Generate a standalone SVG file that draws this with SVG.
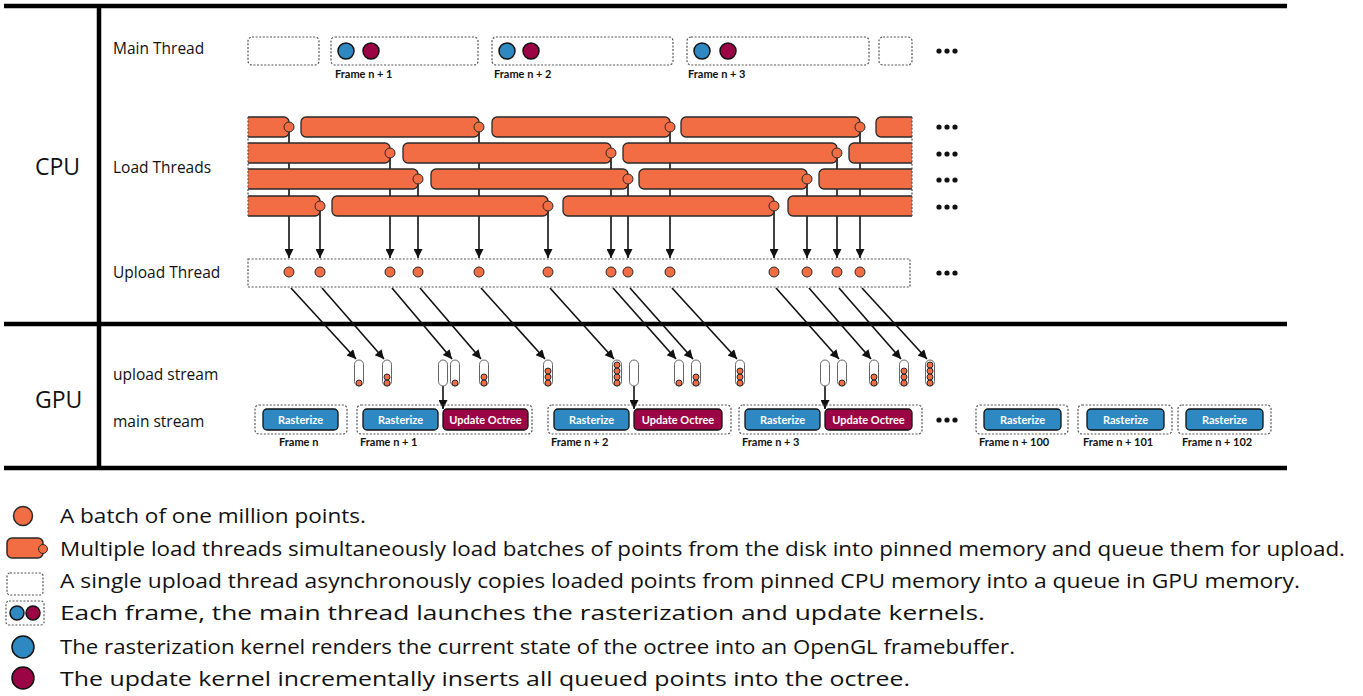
<svg xmlns="http://www.w3.org/2000/svg" width="1363" height="696" viewBox="0 0 1363 696">
<style>
.lbl{font-family:"Open Sans","Liberation Sans",sans-serif;font-size:15.5px;fill:#111}
.big{font-family:"Open Sans","Liberation Sans",sans-serif;font-size:23px;fill:#111}
.leg{font-family:"Open Sans","Liberation Sans",sans-serif;font-size:19.5px;fill:#111}
.fr{font-family:Lato,"Liberation Sans",sans-serif;font-size:11px;font-weight:bold;fill:#111}
.bt{font-family:Lato,"Liberation Sans",sans-serif;font-size:11px;font-weight:bold;fill:#fff;text-anchor:middle}
.dot{fill:none;stroke:#555;stroke-width:1.2;stroke-dasharray:2 1.6}
.bar{fill:#f26d44;stroke:#2a2a2a;stroke-width:1.3}
.pt{fill:#f26d44;stroke:#2a2a2a;stroke-width:1}
.blue{fill:#2e88c2;stroke:#111;stroke-width:1.5}
.red{fill:#9b0445;stroke:#111;stroke-width:1.5}
.rast{fill:#2e88c2;stroke:#111;stroke-width:1.3}
.upd{fill:#9b0445;stroke:#111;stroke-width:1.3}
.cap{fill:#fff;stroke:#666;stroke-width:1}
.arr{stroke:#111;stroke-width:1.6;fill:none;marker-end:url(#ah)}
.rule{stroke:#000;stroke-width:4.5}
.ell{fill:#111}
</style>
<defs>
<marker id="ah" viewBox="0 0 10 10" refX="10" refY="5" markerUnits="userSpaceOnUse" markerWidth="11" markerHeight="9" orient="auto">
<path d="M0,0 L10,5 L0,10 z" fill="#111"/>
</marker>
<clipPath id="lc"><rect x="248" y="100" width="664" height="130"/></clipPath>
</defs>

<g id="frame">
<line class="rule" x1="4" y1="6" x2="1287" y2="6"/>
<line class="rule" x1="4" y1="324" x2="1287" y2="324"/>
<line class="rule" x1="4" y1="468" x2="1287" y2="468"/>
<line class="rule" x1="99" y1="6" x2="99" y2="468"/>
<text class="big" x="35" y="175">CPU</text>
<text class="big" x="35" y="408">GPU</text>
<text class="lbl" x="113" y="54">Main Thread</text>
<text class="lbl" x="113" y="173">Load Threads</text>
<text class="lbl" x="113" y="278">Upload Thread</text>
<text class="lbl" x="113" y="380">upload stream</text>
<text class="lbl" x="113" y="427">main stream</text>
</g>

<g id="main-thread">
<rect class="dot" x="248" y="37" width="71" height="28" rx="4"/>
<rect class="dot" x="331" y="37" width="147" height="28" rx="4"/>
<circle class="blue" cx="346" cy="51" r="8"/><circle class="red" cx="371" cy="51" r="8"/>
<text class="fr" x="335" y="78">Frame n + 1</text>
<rect class="dot" x="492" y="37" width="181" height="28" rx="4"/>
<circle class="blue" cx="507" cy="51" r="8"/><circle class="red" cx="531" cy="51" r="8"/>
<text class="fr" x="494" y="78">Frame n + 2</text>
<rect class="dot" x="687" y="37" width="182" height="28" rx="4"/>
<circle class="blue" cx="702" cy="51" r="8"/><circle class="red" cx="728" cy="51" r="8"/>
<text class="fr" x="688" y="78">Frame n + 3</text>
<rect class="dot" x="879" y="37" width="33" height="28" rx="4"/>
<circle class="ell" cx="939" cy="51" r="2.6"/><circle class="ell" cx="947" cy="51" r="2.6"/><circle class="ell" cx="955" cy="51" r="2.6"/>
</g>

<g id="connectors">
<line class="arr" x1="289" y1="127" x2="289" y2="258"/>
<line class="arr" x1="479" y1="127" x2="479" y2="258"/>
<line class="arr" x1="670" y1="127" x2="670" y2="258"/>
<line class="arr" x1="860" y1="127" x2="860" y2="258"/>
<line class="arr" x1="390" y1="153" x2="390" y2="258"/>
<line class="arr" x1="611" y1="153" x2="611" y2="258"/>
<line class="arr" x1="837" y1="153" x2="837" y2="258"/>
<line class="arr" x1="418" y1="179" x2="418" y2="258"/>
<line class="arr" x1="628" y1="179" x2="628" y2="258"/>
<line class="arr" x1="807" y1="179" x2="807" y2="258"/>
<line class="arr" x1="320" y1="206" x2="320" y2="258"/>
<line class="arr" x1="548" y1="206" x2="548" y2="258"/>
<line class="arr" x1="774" y1="206" x2="774" y2="258"/>

<line class="arr" x1="291" y1="288" x2="356" y2="359"/>
<line class="arr" x1="322" y1="288" x2="384" y2="359"/>
<line class="arr" x1="392" y1="288" x2="452" y2="359"/>
<line class="arr" x1="420" y1="288" x2="481" y2="359"/>
<line class="arr" x1="481" y1="288" x2="545" y2="359"/>
<line class="arr" x1="550" y1="288" x2="614" y2="359"/>
<line class="arr" x1="613" y1="288" x2="676" y2="359"/>
<line class="arr" x1="630" y1="288" x2="693" y2="359"/>
<line class="arr" x1="672" y1="288" x2="737" y2="359"/>
<line class="arr" x1="776" y1="288" x2="839" y2="359"/>
<line class="arr" x1="809" y1="288" x2="871" y2="359"/>
<line class="arr" x1="839" y1="288" x2="901" y2="359"/>
<line class="arr" x1="862" y1="288" x2="927" y2="359"/>

<line class="arr" x1="443" y1="386" x2="443" y2="409"/>
<line class="arr" x1="634" y1="386" x2="634" y2="409"/>
<line class="arr" x1="825" y1="386" x2="825" y2="409"/>
</g>

<g id="load-threads">
<g clip-path="url(#lc)">
<rect class="bar" x="236" y="117" width="53" height="20" rx="5"/>
<rect class="bar" x="301" y="117" width="178" height="20" rx="5"/>
<rect class="bar" x="492" y="117" width="178" height="20" rx="5"/>
<rect class="bar" x="681" y="117" width="179" height="20" rx="5"/>
<rect class="bar" x="876" y="117" width="60" height="20" rx="5"/>
<rect class="bar" x="236" y="143" width="154" height="20" rx="5"/>
<rect class="bar" x="403" y="143" width="208" height="20" rx="5"/>
<rect class="bar" x="623" y="143" width="214" height="20" rx="5"/>
<rect class="bar" x="849" y="143" width="80" height="20" rx="5"/>
<rect class="bar" x="236" y="169" width="182" height="20" rx="5"/>
<rect class="bar" x="431" y="169" width="197" height="20" rx="5"/>
<rect class="bar" x="639" y="169" width="168" height="20" rx="5"/>
<rect class="bar" x="819" y="169" width="110" height="20" rx="5"/>
<rect class="bar" x="236" y="196" width="84" height="20" rx="5"/>
<rect class="bar" x="332" y="196" width="216" height="20" rx="5"/>
<rect class="bar" x="563" y="196" width="211" height="20" rx="5"/>
<rect class="bar" x="788" y="196" width="140" height="20" rx="5"/>
</g>
<line class="dot" x1="248" y1="117" x2="248" y2="216"/>
<line class="dot" x1="912" y1="117" x2="912" y2="216"/>
<circle class="pt" cx="289" cy="127" r="5"/><circle class="pt" cx="479" cy="127" r="5"/><circle class="pt" cx="670" cy="127" r="5"/><circle class="pt" cx="860" cy="127" r="5"/>
<circle class="pt" cx="390" cy="153" r="5"/><circle class="pt" cx="611" cy="153" r="5"/><circle class="pt" cx="837" cy="153" r="5"/>
<circle class="pt" cx="418" cy="179" r="5"/><circle class="pt" cx="628" cy="179" r="5"/><circle class="pt" cx="807" cy="179" r="5"/>
<circle class="pt" cx="320" cy="206" r="5"/><circle class="pt" cx="548" cy="206" r="5"/><circle class="pt" cx="774" cy="206" r="5"/>
<g class="ell">
<circle cx="939" cy="127" r="2.6"/><circle cx="947" cy="127" r="2.6"/><circle cx="955" cy="127" r="2.6"/>
<circle cx="939" cy="154" r="2.6"/><circle cx="947" cy="154" r="2.6"/><circle cx="955" cy="154" r="2.6"/>
<circle cx="939" cy="180" r="2.6"/><circle cx="947" cy="180" r="2.6"/><circle cx="955" cy="180" r="2.6"/>
<circle cx="939" cy="207" r="2.6"/><circle cx="947" cy="207" r="2.6"/><circle cx="955" cy="207" r="2.6"/>
</g>
</g>

<g id="upload-thread">
<rect class="dot" x="248" y="259" width="662" height="28"/>
<circle class="pt" cx="289" cy="272" r="5"/><circle class="pt" cx="320" cy="272" r="5"/><circle class="pt" cx="390" cy="272" r="5"/><circle class="pt" cx="418" cy="272" r="5"/><circle class="pt" cx="479" cy="272" r="5"/><circle class="pt" cx="548" cy="272" r="5"/><circle class="pt" cx="611" cy="272" r="5"/><circle class="pt" cx="628" cy="272" r="5"/><circle class="pt" cx="670" cy="272" r="5"/><circle class="pt" cx="774" cy="272" r="5"/><circle class="pt" cx="807" cy="272" r="5"/><circle class="pt" cx="837" cy="272" r="5"/><circle class="pt" cx="860" cy="272" r="5"/>
<circle class="ell" cx="939" cy="273" r="2.6"/><circle class="ell" cx="947" cy="273" r="2.6"/><circle class="ell" cx="955" cy="273" r="2.6"/>
</g>

<g id="upload-stream">
<rect class="cap" x="354.5" y="360" width="9" height="26" rx="4.5"/><circle class="pt" cx="359" cy="383" r="3"/>
<rect class="cap" x="382.5" y="360" width="9" height="26" rx="4.5"/><circle class="pt" cx="387" cy="383" r="3"/><circle class="pt" cx="387" cy="377" r="3"/>
<rect class="cap" x="438.5" y="360" width="9" height="26" rx="4.5"/>
<rect class="cap" x="450.5" y="360" width="9" height="26" rx="4.5"/><circle class="pt" cx="455" cy="383" r="3"/>
<rect class="cap" x="479.5" y="360" width="9" height="26" rx="4.5"/><circle class="pt" cx="484" cy="383" r="3"/><circle class="pt" cx="484" cy="377" r="3"/>
<rect class="cap" x="543.5" y="360" width="9" height="26" rx="4.5"/><circle class="pt" cx="548" cy="383" r="3"/><circle class="pt" cx="548" cy="377" r="3"/><circle class="pt" cx="548" cy="371" r="3"/>
<rect class="cap" x="612.5" y="360" width="9" height="26" rx="4.5"/><circle class="pt" cx="617" cy="383" r="3"/><circle class="pt" cx="617" cy="377" r="3"/><circle class="pt" cx="617" cy="371" r="3"/><circle class="pt" cx="617" cy="365" r="3"/>
<rect class="cap" x="629.5" y="360" width="9" height="26" rx="4.5"/>
<rect class="cap" x="674.5" y="360" width="9" height="26" rx="4.5"/><circle class="pt" cx="679" cy="383" r="3"/>
<rect class="cap" x="691.5" y="360" width="9" height="26" rx="4.5"/><circle class="pt" cx="696" cy="383" r="3"/><circle class="pt" cx="696" cy="377" r="3"/>
<rect class="cap" x="735.5" y="360" width="9" height="26" rx="4.5"/><circle class="pt" cx="740" cy="383" r="3"/><circle class="pt" cx="740" cy="377" r="3"/><circle class="pt" cx="740" cy="371" r="3"/>
<rect class="cap" x="820.5" y="360" width="9" height="26" rx="4.5"/>
<rect class="cap" x="837.5" y="360" width="9" height="26" rx="4.5"/><circle class="pt" cx="842" cy="383" r="3"/>
<rect class="cap" x="869.5" y="360" width="9" height="26" rx="4.5"/><circle class="pt" cx="874" cy="383" r="3"/><circle class="pt" cx="874" cy="377" r="3"/>
<rect class="cap" x="899.5" y="360" width="9" height="26" rx="4.5"/><circle class="pt" cx="904" cy="383" r="3"/><circle class="pt" cx="904" cy="377" r="3"/><circle class="pt" cx="904" cy="371" r="3"/>
<rect class="cap" x="925.5" y="360" width="9" height="26" rx="4.5"/><circle class="pt" cx="930" cy="383" r="3"/><circle class="pt" cx="930" cy="377" r="3"/><circle class="pt" cx="930" cy="371" r="3"/><circle class="pt" cx="930" cy="365" r="3"/>
</g>

<g id="main-stream">
<g id="frame-n">
<rect class="dot" x="255" y="405" width="92" height="29" rx="4"/>
<rect class="rast" x="263" y="409" width="75" height="21" rx="4"/><text class="bt" x="300.5" y="423.5">Rasterize</text>
<text class="fr" x="279" y="446">Frame n</text>
</g>
<g id="frame-n1">
<rect class="dot" x="357" y="405" width="175" height="29" rx="4"/>
<rect class="rast" x="363" y="409" width="75" height="21" rx="4"/><text class="bt" x="400.5" y="423.5">Rasterize</text>
<rect class="upd" x="443" y="409" width="85" height="21" rx="4"/><text class="bt" x="485.5" y="423.5">Update Octree</text>
<text class="fr" x="360" y="446">Frame n + 1</text>
</g>
<g id="frame-n2">
<rect class="dot" x="548" y="405" width="183" height="29" rx="4"/>
<rect class="rast" x="554" y="409" width="75" height="21" rx="4"/><text class="bt" x="591.5" y="423.5">Rasterize</text>
<rect class="upd" x="634" y="409" width="88" height="21" rx="4"/><text class="bt" x="678" y="423.5">Update Octree</text>
<text class="fr" x="551" y="446">Frame n + 2</text>
</g>
<g id="frame-n3">
<rect class="dot" x="739" y="405" width="183" height="29" rx="4"/>
<rect class="rast" x="745" y="409" width="75" height="21" rx="4"/><text class="bt" x="782.5" y="423.5">Rasterize</text>
<rect class="upd" x="825" y="409" width="87" height="21" rx="4"/><text class="bt" x="868.5" y="423.5">Update Octree</text>
<text class="fr" x="742" y="446">Frame n + 3</text>
</g>
<circle class="ell" cx="939" cy="420" r="2.6"/><circle class="ell" cx="947" cy="420" r="2.6"/><circle class="ell" cx="955" cy="420" r="2.6"/>
<g id="frame-n100">
<rect class="dot" x="976" y="405" width="92" height="29" rx="4"/>
<rect class="rast" x="984" y="409" width="77" height="21" rx="4"/><text class="bt" x="1022.5" y="423.5">Rasterize</text>
<text class="fr" x="979" y="446">Frame n + 100</text>
</g>
<g id="frame-n101">
<rect class="dot" x="1078" y="405" width="94" height="29" rx="4"/>
<rect class="rast" x="1087" y="409" width="77" height="21" rx="4"/><text class="bt" x="1125.5" y="423.5">Rasterize</text>
<text class="fr" x="1083" y="446">Frame n + 101</text>
</g>
<g id="frame-n102">
<rect class="dot" x="1178" y="405" width="93" height="29" rx="4"/>
<rect class="rast" x="1186" y="409" width="77" height="21" rx="4"/><text class="bt" x="1224.5" y="423.5">Rasterize</text>
<text class="fr" x="1182" y="446">Frame n + 102</text>
</g>
</g>

<g id="legend">
<circle class="pt" cx="23" cy="516" r="9.5" style="stroke-width:1.5"/>
<text class="leg" x="60" y="523" textLength="306" lengthAdjust="spacingAndGlyphs">A batch of one million points.</text>
<rect class="bar" x="7" y="538" width="36" height="20" rx="5" style="stroke-width:1.5"/>
<circle class="pt" cx="43" cy="549" r="4.5"/>
<text class="leg" x="60" y="556" textLength="1285" lengthAdjust="spacingAndGlyphs">Multiple load threads simultaneously load batches of points from the disk into pinned memory and queue them for upload.</text>
<rect class="dot" x="7" y="573" width="36" height="22" rx="3"/>
<text class="leg" x="60" y="588" textLength="1240" lengthAdjust="spacingAndGlyphs">A single upload thread asynchronously copies loaded points from pinned CPU memory into a queue in GPU memory.</text>
<rect class="dot" x="6" y="601" width="38" height="24" rx="3"/>
<circle class="blue" cx="17" cy="613" r="7"/><circle class="red" cx="33" cy="613" r="7"/>
<text class="leg" x="60" y="620" textLength="925" lengthAdjust="spacingAndGlyphs">Each frame, the main thread launches the rasterization and update kernels.</text>
<circle class="blue" cx="23" cy="647" r="11"/>
<text class="leg" x="60" y="654" textLength="955" lengthAdjust="spacingAndGlyphs">The rasterization kernel renders the current state of the octree into an OpenGL framebuffer.</text>
<circle class="red" cx="23" cy="678" r="11"/>
<text class="leg" x="60" y="686" textLength="850" lengthAdjust="spacingAndGlyphs">The update kernel incrementally inserts all queued points into the octree.</text>
</g>
</svg>
